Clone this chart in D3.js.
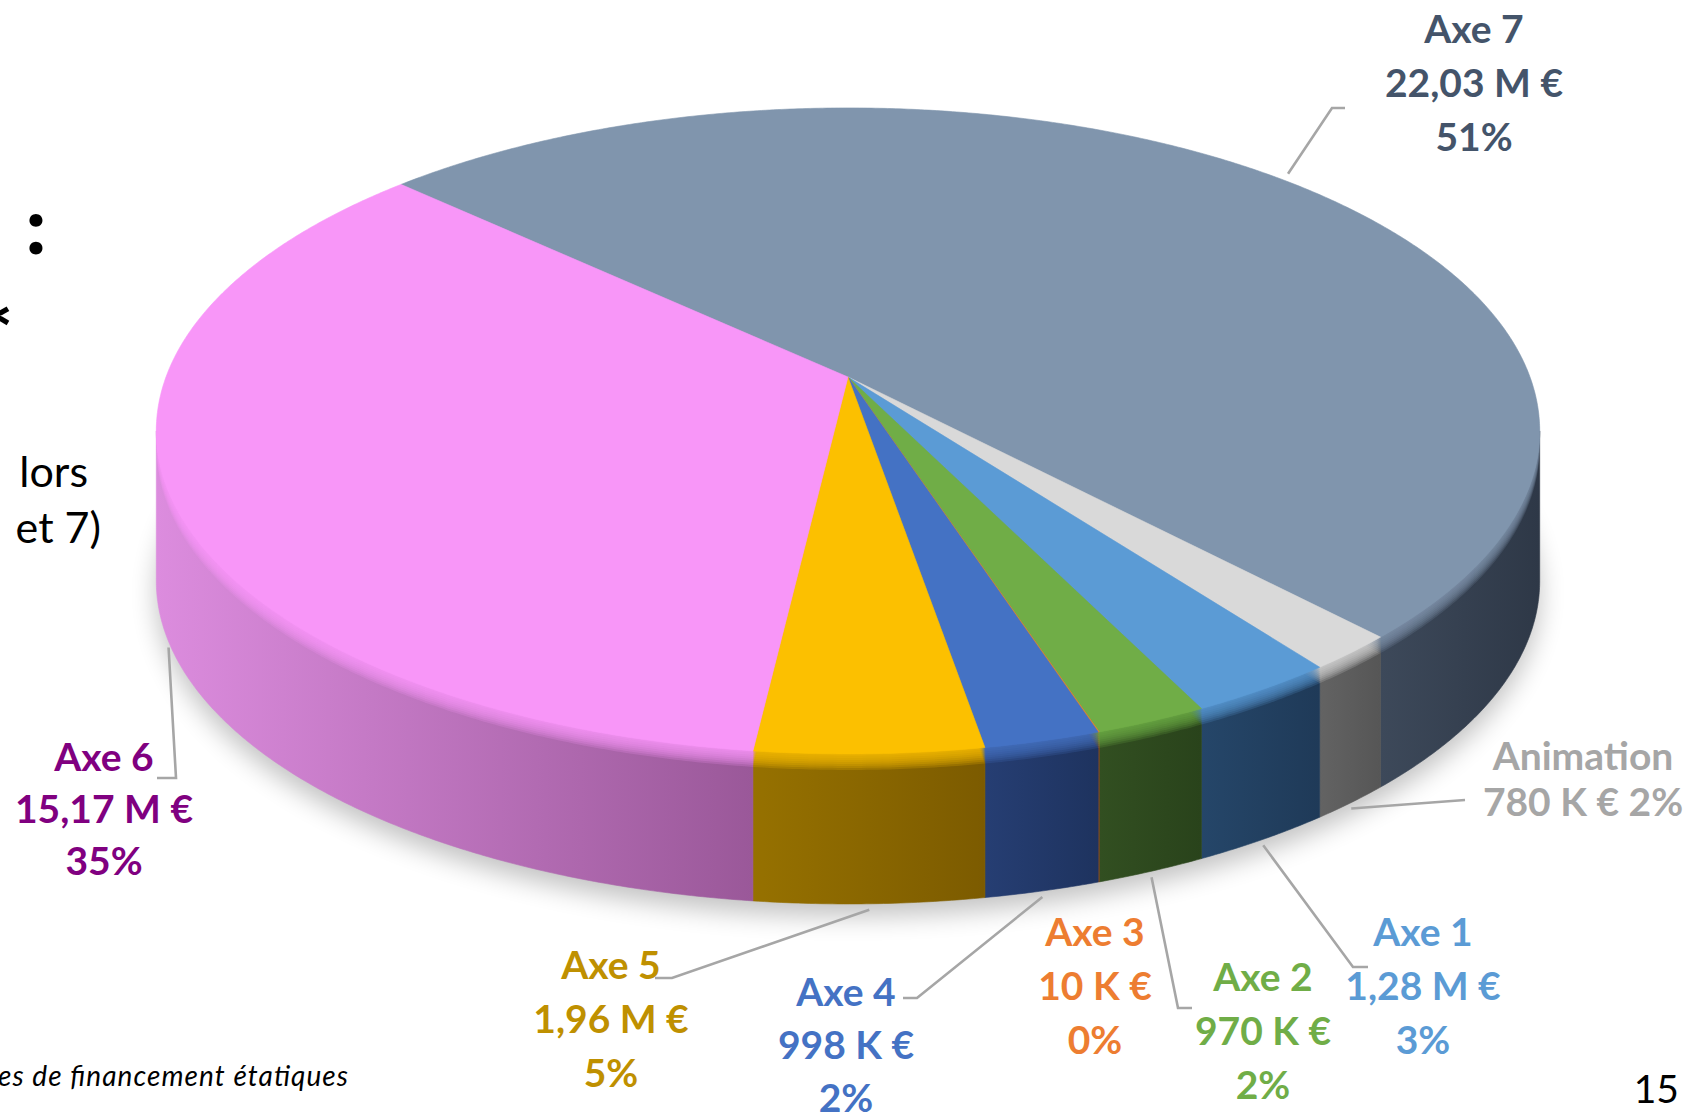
<!DOCTYPE html>
<html><head><meta charset="utf-8">
<script src="https://cdn.jsdelivr.net/npm/d3@7"></script>
<style>body{margin:0;background:#fff}svg{display:block}text{font-family:Lato,"Open Sans",sans-serif}</style>
</head><body>
<script>
// ---- data ----
const categories = ["Axe 7","Animation","Axe 1","Axe 2","Axe 3","Axe 4","Axe 5","Axe 6"];
const values = [22.03, 0.78, 1.28, 0.97, 0.01, 0.998, 1.96, 15.17]; // millions d'euros
// ---- styles ----
const topColors  = ["#8095AD","#D9D9D9","#5B9BD5","#70AD47","#ED7D31","#4472C4","#FCC000","#F896F8"];
const wallLight  = ["#3D495A","#636363","#254669","#324F21","#8A4515","#263E73","#967100","#DC8CDE"];
const wallDark   = ["#2E3847","#565656","#1F3A58","#29431B","#7A3C12","#1E335F","#7C5B00","#9A5899"];
const labelColors= ["#44546A","#A6A6A6","#5B9BD5","#70AD47","#ED7D31","#4472C4","#BF9000","#800080"];
// ---- label layout ----
const labelLayout = [
 {cx:1474, y0:43,  dy:54, path:[[1332,108],[1345,108]], lines:3},
 {cx:1583, y0:770, dy:46, path:[[1465,800]], lines:2},
 {cx:1423, y0:946, dy:54, path:[[1353,967],[1368,967]], lines:3},
 {cx:1263, y0:991, dy:54, path:[[1178,1008],[1192,1008]], lines:3},
 {cx:1095, y0:946, dy:54, path:null, lines:3},
 {cx:846,  y0:1006,dy:53, path:[[917,998],[903,998]], lines:3},
 {cx:611,  y0:979, dy:54, path:[[672,978],[655,978]], lines:3},
 {cx:104,  y0:771, dy:52, path:[[176,778],[157,778]], lines:3}
];

const W=1687,H=1113;
const svg=d3.select("body").append("svg").attr("width",W).attr("height",H);
const defs=svg.append("defs");
defs.append("filter").attr("id","blur").attr("x","-30%").attr("y","-30%").attr("width","160%").attr("height","160%")
  .append("feGaussianBlur").attr("stdDeviation",13);

const fr = d3.formatLocale({decimal:",",thousands:" ",grouping:[3],currency:["","€"]});
const fmtM = fr.format(".2f");
const fmtPct = d3.format(".0%");
const total = d3.sum(values);
const amount = v => v>=1 ? fmtM(v)+" M €" : Math.round(v*1000)+" K €";

// ---- 3D projection ----
const cx=848, cy=377, sx=682, sy=314, k=0.167, depth=150;
const toRad=d=>d*Math.PI/180;
function proj(a,r=1,dy=0){const X=r*Math.sin(a),Z=-r*Math.cos(a);const w=1-k*Z;return [cx+sx*X/w, cy+sy*Z/w+dy];}
function arcPts(a0,a1,r=1,dy=0){const n=Math.max(2,Math.ceil(Math.abs(a1-a0)/toRad(0.4)));return d3.range(n+1).map(i=>proj(a0+(a1-a0)*i/n,r,dy));}
const line=d3.line();

const start=toRad(-46.9);
const arcs=d3.pie().sort(null).startAngle(start).endAngle(start+2*Math.PI)(values);
const amin=Math.acos(-k), amax=2*Math.PI-amin;

// shadow
svg.append("path").attr("d",line(arcPts(0,2*Math.PI,1.0,depth+12))+"Z")
  .attr("fill","#000").attr("opacity",0.24).attr("filter","url(#blur)");

// walls
const gWall=svg.append("g");
arcs.forEach((d,i)=>{
  let seg=null;
  for(const s of [-2*Math.PI,0,2*Math.PI]){
    const lo=Math.max(d.startAngle,amin+s), hi=Math.min(d.endAngle,amax+s);
    if(hi>lo) seg=[lo,hi];
  }
  if(!seg) return;
  const top=arcPts(seg[0],seg[1],1,0), bot=arcPts(seg[0],seg[1],1,depth).reverse();
  const xs=top.map(p=>p[0]);
  const gid="wg"+i;
  const lg=defs.append("linearGradient").attr("id",gid).attr("gradientUnits","userSpaceOnUse")
    .attr("x1",d3.min(xs)).attr("x2",d3.max(xs)).attr("y1",0).attr("y2",0);
  lg.append("stop").attr("offset",0).attr("stop-color",wallLight[i]);
  lg.append("stop").attr("offset",1).attr("stop-color",wallDark[i]);
  gWall.append("path").attr("d",line(top.concat(bot))+"Z").attr("fill",`url(#${gid})`)
    .attr("stroke",`url(#${gid})`).attr("stroke-width",0.6);
});

// bevel layers
const N=8, B=16;
for(let j=0;j<N;j++){
  const off=B*(1-j/N);
  arcs.forEach((d,i)=>{
    svg.append("path").attr("d",line([[cx,cy+off]].concat(arcPts(d.startAngle,d.endAngle,1,off)))+"Z")
      .attr("fill",topColors[i]).attr("opacity",0.2);
  });
}
// tops
arcs.forEach((d,i)=>{
  svg.append("path").attr("d",line([[cx,cy]].concat(arcPts(d.startAngle,d.endAngle,1,0)))+"Z")
    .attr("fill",topColors[i]).attr("stroke",topColors[i]).attr("stroke-width",0.6);
});

// leader lines + labels
arcs.forEach((d,i)=>{
  const L=labelLayout[i];
  const mid=(d.startAngle+d.endAngle)/2;
  const m=((mid%(2*Math.PI))+2*Math.PI)%(2*Math.PI);
  const front = m>amin && m<amax;
  const s = front ? proj(mid,1,depth+6) : proj(mid,1.025,0);
  if(L.path){
    svg.append("path").attr("d",line([s].concat(L.path))).attr("fill","none")
      .attr("stroke","#A6A6A6").attr("stroke-width",2.6);
  }
  const pct=fmtPct(d.value/total);
  const lines = L.lines===3 ? [categories[i], amount(d.value), pct] : [categories[i], amount(d.value)+" "+pct];
  const t=svg.append("text").attr("text-anchor","middle").attr("font-weight",700)
    .attr("font-size",39).attr("fill",labelColors[i]);
  lines.forEach((s2,j)=>t.append("tspan").attr("x",L.cx).attr("y",L.y0+j*L.dy).text(s2));
});

// slide text fragments
svg.append("text").attr("x",36).attr("y",254).attr("text-anchor","middle").attr("font-size",80).attr("font-weight",900).text(":");
svg.append("text").attr("x",13).attr("y",364).attr("text-anchor","end").attr("font-size",82).attr("font-weight",900).text("*");
svg.append("text").attr("x",88).attr("y",487).attr("text-anchor","end").attr("font-size",43).text("lors");
svg.append("text").attr("x",101).attr("y",543).attr("text-anchor","end").attr("font-size",43).text("et 7)");
svg.append("text").attr("x",348).attr("y",1086).attr("text-anchor","end").attr("font-size",28).attr("font-style","italic")
  .attr("textLength",350).attr("lengthAdjust","spacing").text("es de financement étatiques");
svg.append("text").attr("x",1679).attr("y",1103).attr("text-anchor","end").attr("font-size",39).text("15");
</script>
</body></html>
